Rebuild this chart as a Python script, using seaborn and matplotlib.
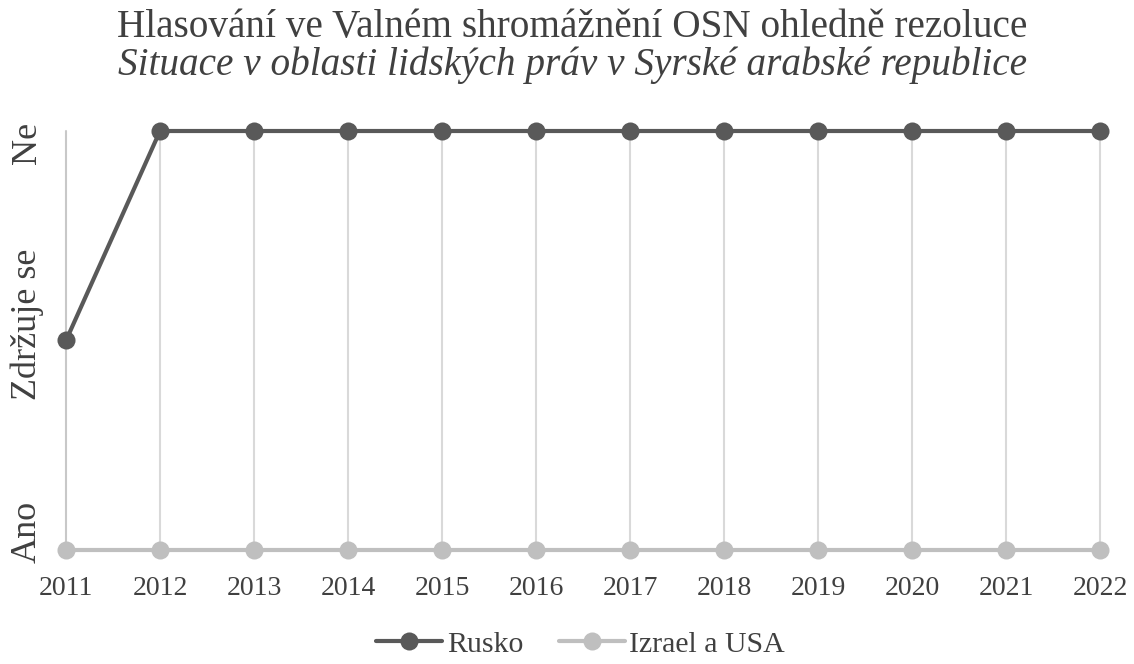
import numpy as np
import pandas as pd
import matplotlib
matplotlib.use("Agg")
import matplotlib.pyplot as plt
import matplotlib.transforms as mtransforms
import seaborn as sns

years = [2011, 2012, 2013, 2014, 2015, 2016, 2017, 2018, 2019, 2020, 2021, 2022]
rusko = [1, 2, 2, 2, 2, 2, 2, 2, 2, 2, 2, 2]
izrael_usa = [0, 0, 0, 0, 0, 0, 0, 0, 0, 0, 0, 0]
series_names = ["Rusko", "Izrael a USA"]
vote_labels = ["Ano", "Zdržuje se", "Ne"]
title_main = "Hlasování ve Valném shromážnění OSN ohledně rezoluce"
title_sub = "Situace v oblasti lidských práv v Syrské arabské republice"

COLORS = {"Rusko": "#595959", "Izrael a USA": "#BFBFBF"}
TEXT = "#404040"

sns.set_style("white")
plt.rcParams["font.family"] = ["Liberation Serif", "DejaVu Serif"]

df = pd.DataFrame({
    "rok": years * 2,
    "hlas": rusko + izrael_usa,
    "stat": [series_names[0]] * len(years) + [series_names[1]] * len(years),
})

fig = plt.figure(figsize=(11.34, 6.64), dpi=100)
ax = fig.add_axes([0.0582, 0.1717, 0.9118, 0.631])

for i, y in enumerate(years):
    ax.axvline(y, color="#C8C8C8" if i == 0 else "#D9D9D9", lw=1.5, zorder=0)

sns.lineplot(data=df, x="rok", y="hlas", hue="stat", palette=COLORS,
             hue_order=series_names[::-1], marker="o", markersize=13,
             markeredgewidth=0, linewidth=3, ax=ax, legend=False)
for line in ax.lines:
    line.set_clip_on(False)

ax.set_xlim(years[0], years[-1])
ax.set_ylim(0, 2)
ax.set_xticks(years)
ax.set_xticklabels([str(y) for y in years], fontsize=20, color=TEXT)
ax.set_yticks([0, 1, 2])
ax.set_yticklabels(vote_labels, rotation=90, va="center", fontsize=26, color=TEXT)
ax.tick_params(axis="x", length=0, pad=19)
ax.tick_params(axis="y", length=0, pad=16)
for s in ax.spines.values():
    s.set_visible(False)
ax.set_xlabel("")
ax.set_ylabel("")

# nudge the rotated vote labels the way the original sits them
for lab, dy in zip(ax.get_yticklabels(), [0.18, 0.16, -0.12]):
    lab.set_transform(lab.get_transform() +
                      mtransforms.ScaledTranslation(0, dy, fig.dpi_scale_trans))

fig.text(0.505, 0.959, title_main, ha="center", va="center", fontsize=28.3, color=TEXT)
fig.text(0.505, 0.901, title_sub, ha="center", va="center", fontsize=28.3,
         style="italic", color=TEXT)

handles = [plt.Line2D([], [], color=COLORS[n], marker="o", markersize=13,
                      markeredgewidth=0, linewidth=3) for n in series_names]
fig.legend(handles, series_names, loc="center", bbox_to_anchor=(0.512, 0.03),
           ncol=2, frameon=False, fontsize=21.5, handlelength=2.2,
           handletextpad=0.15, columnspacing=1.2, labelcolor=TEXT)

fig.savefig("out.png", dpi=100)
